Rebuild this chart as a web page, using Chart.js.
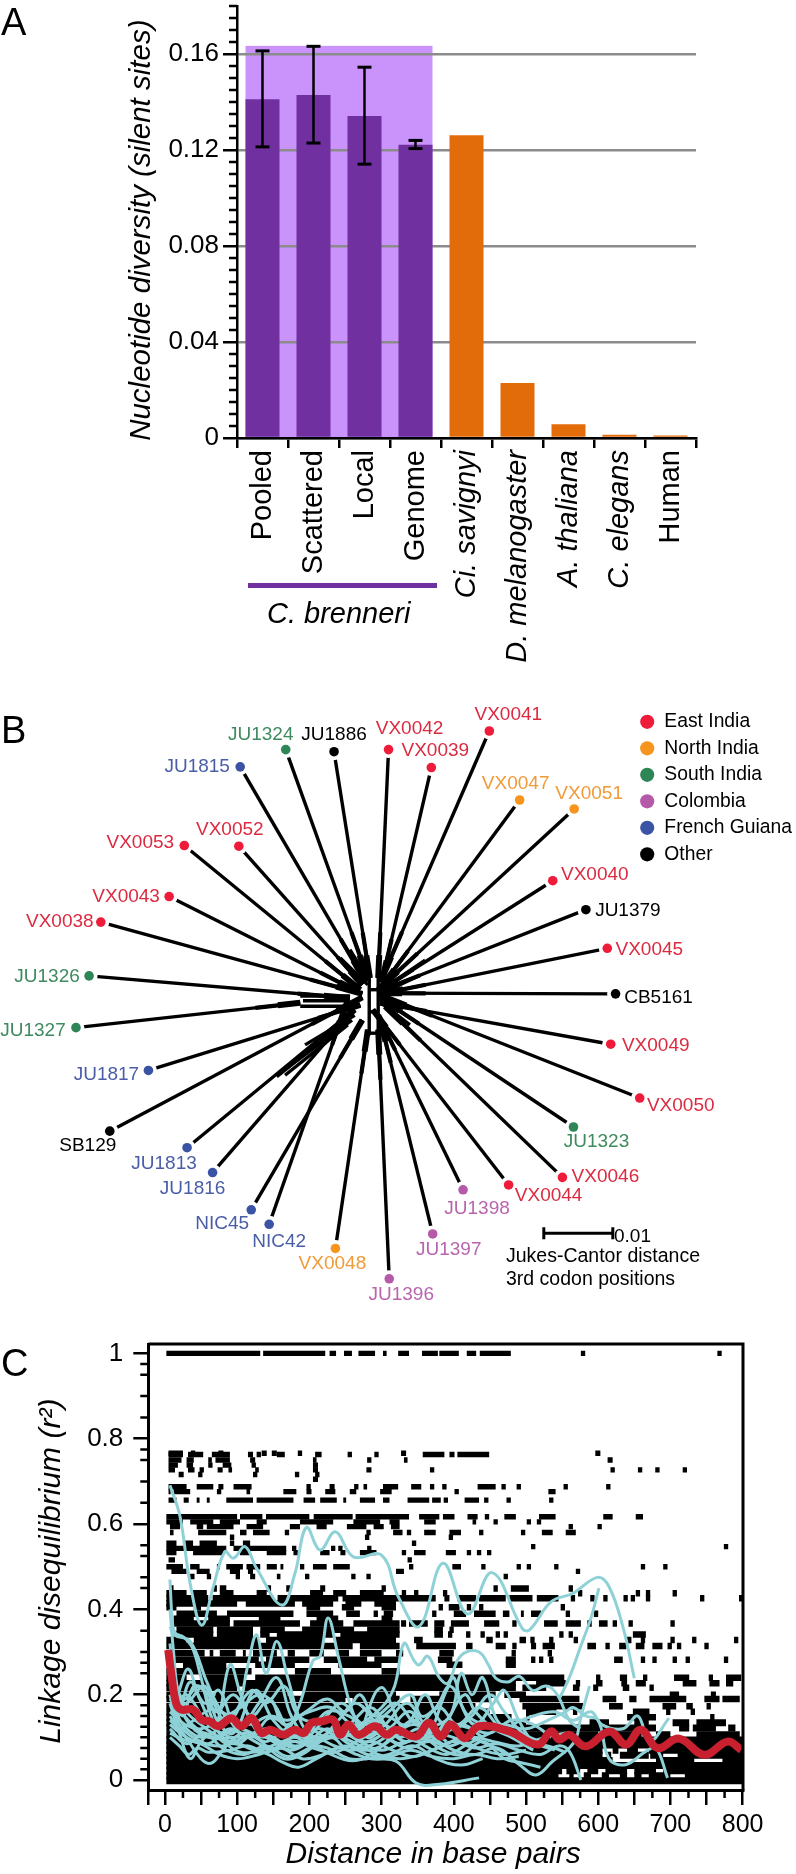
<!DOCTYPE html>
<html>
<head>
<meta charset="utf-8">
<script src="https://cdn.jsdelivr.net/npm/chart.js@4"></script>
<style>
body { margin: 0; background: #fff; font-family: "Liberation Sans", Arial, sans-serif; }
#page { position: relative; width: 796px; height: 1874px; overflow: hidden; }
canvas { position: absolute; left: 0; }
.note { position: absolute; white-space: nowrap; color: #000; line-height: 1; }
.letter { font-size: 38px; left: 1px; }
</style>
</head>
<body>
<div id="page">
  <canvas id="diversity" width="796" height="680" style="top:0"></canvas>
  <canvas id="tree" width="796" height="650" style="top:680px"></canvas>
  <canvas id="ld" width="796" height="544" style="top:1330px"></canvas>
  <div class="note letter" style="top:3px">A</div>
  <div class="note letter" style="top:711px">B</div>
  <div class="note letter" style="top:1344px">C</div>
  <div style="position:absolute;left:248px;top:583px;width:189px;height:5px;background:#7030a0"></div>
  <div class="note" style="left:267px;top:599px;font-size:29px;font-style:italic">C. brenneri</div>
  <div class="note" style="left:614px;top:1226px;font-size:19px">0.01</div>
  <div class="note" style="left:506px;top:1246px;font-size:19.5px">Jukes-Cantor distance</div>
  <div class="note" style="left:506px;top:1269px;font-size:19.5px">3rd codon positions</div>
</div>
<script>
// Panel A
const species = ['Pooled', 'Scattered', 'Local', 'Genome', 'Ci. savignyi', 'D. melanogaster', 'A. thaliana', 'C. elegans', 'Human'];
const italicSpecies = ['Ci. savignyi', 'D. melanogaster', 'A. thaliana', 'C. elegans'];
const diversity = [0.1411, 0.1429, 0.1342, 0.1222, 0.1261, 0.0229, 0.0057, 0.0014, 0.001];
const errLow = [0.1213, 0.1229, 0.1141, 0.1206];
const errHigh = [0.1613, 0.1632, 0.1545, 0.124];
const brenneriBand = 0.1634;
const divMajorTicks = [0, 0.04, 0.08, 0.12, 0.16];
const divMinorTicks = [0.005, 0.01, 0.015, 0.02, 0.025, 0.03, 0.035, 0.045, 0.05, 0.055, 0.06, 0.065, 0.07, 0.075, 0.085, 0.09, 0.095, 0.1, 0.105, 0.11, 0.115, 0.125, 0.13, 0.135, 0.14, 0.145, 0.15, 0.155, 0.165, 0.17, 0.175, 0.18];

// Panel B, distances from the centre of the tree
const leafNames = ['JU1324', 'JU1886', 'VX0042', 'JU1815', 'VX0052', 'VX0053', 'VX0043', 'VX0038', 'JU1326', 'JU1327', 'JU1817', 'SB129', 'JU1813', 'JU1816', 'NIC45', 'NIC42', 'VX0048', 'JU1396', 'VX0041', 'VX0039', 'VX0047', 'VX0051', 'VX0040', 'JU1379', 'VX0045', 'CB5161', 'VX0049', 'VX0050', 'JU1323', 'VX0046', 'VX0044', 'JU1398', 'JU1397'];
const leafRegion = [2, 5, 0, 4, 0, 0, 0, 0, 2, 2, 4, 5, 4, 4, 4, 4, 1, 3, 0, 0, 1, 1, 0, 5, 0, 5, 0, 0, 2, 0, 0, 3, 3];
const leafX = [-0.0125, -0.0055, 0.0024, -0.0191, -0.0193, -0.0272, -0.0294, -0.0393, -0.041, -0.0429, -0.0324, -0.038, -0.0268, -0.0231, -0.0175, -0.0149, -0.0053, 0.0025, 0.017, 0.0086, 0.0214, 0.0293, 0.0262, 0.031, 0.0341, 0.0353, 0.0346, 0.0388, 0.0292, 0.0276, 0.0198, 0.0132, 0.0088];
const leafY = [0.036, 0.0357, 0.036, 0.0335, 0.022, 0.0221, 0.0147, 0.011, 0.0032, -0.0043, -0.0105, -0.0193, -0.0217, -0.0253, -0.0307, -0.0328, -0.0363, -0.0407, 0.0387, 0.0334, 0.0287, 0.0274, 0.017, 0.0128, 0.0072, 0.0006, -0.0067, -0.0145, -0.0187, -0.026, -0.0271, -0.0278, -0.0342];
const nodeX = [-0.0006, -0.0003, 0.0009, -0.0009, -0.0014, -0.0017, -0.002, -0.0014, -0.0032, -0.0104, -0.0017, -0.0014, -0.0025, -0.0029, -0.0014, -0.0035, -0.0006, 0.0009, 0.0012, 0.0014, 0.0012, 0.0009, 0.0009, 0.0009, 0.0012, 0.0009, 0.0012, 0.0012, 0.0012, 0.0019, 0.0001, 0.0009, 0.0012];
const nodeY = [0.0029, 0.0029, 0.0029, 0.0023, 0.0019, 0.0012, 0.0009, 0.0006, 0, -0.0007, -0.001, 0.0001, -0.0017, -0.002, -0.0032, -0.0003, -0.0046, -0.0046, 0.0023, 0.0023, 0.0014, 0.0012, 0.0009, 0.0009, 0.0006, 0.0007, -0.0007, 0.0004, 0, -0.0012, -0.0017, -0.0025, -0.0032];
const innerEdges = [
  [-0.0004, 0.0033, -0.0004, -0.0054], [0.0009, 0.0033, 0.0009, -0.0054],
  [-0.0004, 0.0012, 0.0009, 0.0012], [-0.0004, -0.002, 0.0009, -0.002], [-0.0004, -0.0051, 0.0009, -0.0051],
  [-0.0104, 0.0003, -0.0032, 0.0003], [-0.01, -0.0004, -0.0032, -0.0004], [-0.0104, -0.0012, -0.0029, -0.0012],
  [-0.0138, -0.0114, -0.0039, -0.0035], [-0.0126, -0.0112, -0.0035, -0.0039], [-0.0112, -0.0093, -0.0029, -0.0032], [-0.0097, -0.0068, -0.0025, -0.0025],
  [-0.0046, 0.0058, -0.0006, 0.0019], [-0.0032, 0.007, -0.0003, 0.0023],
  [0.0077, 0.0055, 0.0014, 0.0012], [0.007, 0.0033, 0.0014, 0.0007], [0.0055, -0.0039, 0.0012, -0.0006]
];
const scaleBarX = [0.0249, 0.0349];
const scaleBarY = -0.0341;
const regions = ['East India', 'North India', 'South India', 'Colombia', 'French Guiana', 'Other'];

// Panel C, one row of runs [from, to, from, to, ...] per r2 level
const ldLevels = [1, 0.766, 0.763, 0.75, 0.738, 0.727, 0.716, 0.705, 0.6875, 0.676, 0.656, 0.617, 0.605, 0.594, 0.58, 0.569, 0.555, 0.547, 0.543, 0.533, 0.516, 0.5, 0.489, 0.477, 0.449, 0.4375, 0.426, 0.414, 0.405, 0.39, 0.378, 0.367, 0.352, 0.341, 0.328, 0.314, 0.297, 0.282, 0.27, 0.255, 0.24, 0.227, 0.216, 0.2, 0.19, 0.173, 0.16, 0.147, 0.134, 0.122, 0.106, 0.094, 0.082, 0.07, 0.058, 0.046, 0.034, 0.022, 0.01, -0.002];
const ldRuns = [
  [2, 132, 136, 222, 228, 237, 248, 259, 268, 291, 302, 307, 323, 338, 356, 378, 380, 407, 418, 431, 436, 479, 576, 582, 765, 771],
  [5, 25, 36, 42, 74, 81, 134, 141, 148, 155, 184, 190, 327, 334, 596, 603],
  [5, 25, 32, 53, 65, 90, 115, 122, 127, 133, 155, 166, 208, 217, 253, 259, 290, 296, 357, 387, 394, 401, 405, 449],
  [5, 23, 30, 40, 60, 65, 70, 90, 118, 125, 205, 210, 280, 286, 331, 336, 613, 620],
  [5, 18, 30, 39, 60, 66, 80, 92, 120, 126, 205, 212],
  [5, 14, 32, 41, 48, 54, 73, 80, 88, 93, 125, 130, 205, 212, 279, 286, 367, 373, 617, 623, 655, 661, 679, 685, 717, 723],
  [19, 26, 46, 52, 122, 128, 180, 186, 208, 214],
  [205, 212],
  [5, 30, 44, 67, 74, 81, 95, 120, 196, 202, 228, 235, 262, 268, 275, 280, 302, 323, 341, 355, 367, 373, 384, 390, 433, 458, 466, 472, 487, 493, 552, 558, 611, 617],
  [5, 8, 12, 35, 72, 78, 113, 118, 164, 182, 196, 203, 222, 236, 256, 265, 298, 314, 401, 407, 531, 541],
  [5, 16, 26, 33, 44, 48, 58, 62, 85, 122, 127, 178, 192, 208, 215, 238, 247, 251, 270, 291, 302, 311, 336, 366, 370, 382, 386, 392, 415, 435, 442, 448, 473, 479, 532, 538],
  [2, 100, 104, 135, 140, 200, 206, 260, 264, 338, 352, 380, 385, 401, 419, 433, 443, 449, 470, 486, 518, 541, 607, 620, 652, 662],
  [2, 25, 35, 67, 76, 104, 127, 141, 187, 233, 261, 298, 311, 325, 359, 375, 426, 431, 455, 461, 501, 507, 515, 521],
  [7, 21, 44, 53, 58, 95, 113, 136, 173, 187, 210, 224, 252, 279, 289, 303, 313, 325, 559, 565, 599, 605],
  [7, 12, 46, 85, 104, 113, 122, 145, 166, 172, 279, 285, 316, 329, 335, 341, 359, 375, 394, 410, 435, 441, 493, 499, 522, 537, 555, 569],
  [90, 96, 277, 283, 393, 399],
  [2, 16, 25, 39, 48, 72, 90, 96, 108, 118, 342, 348],
  [507, 513, 774, 780],
  [2, 85, 95, 168, 176, 182, 230, 236, 240, 246, 280, 286],
  [2, 16, 39, 81, 104, 118, 141, 168, 178, 184, 215, 228, 243, 250, 270, 293, 328, 334, 345, 361, 389, 403, 418, 424, 432, 438, 446, 452],
  [5, 14, 336, 342],
  [2, 25, 35, 48, 72, 76, 85, 108, 113, 132, 141, 155, 160, 164, 187, 193, 205, 224, 233, 256, 338, 344, 398, 410, 438, 444, 487, 493, 501, 507, 539, 545, 659, 665, 690, 696],
  [9, 30, 44, 62, 90, 104, 115, 122, 320, 331, 569, 575],
  [35, 41, 58, 64, 98, 104, 118, 125, 155, 160, 194, 200, 258, 264, 279, 285, 469, 475],
  [7, 12, 67, 72, 76, 85, 141, 147, 168, 174, 215, 222, 300, 306, 455, 461, 479, 504, 559, 565],
  [2, 30, 39, 58, 76, 95, 127, 141, 201, 219, 233, 251, 270, 303, 328, 334, 345, 351, 385, 391, 572, 578, 652, 658, 666, 672, 703, 709],
  [2, 60, 66, 150, 156, 240, 246, 375, 387, 394, 405, 431, 435, 472, 477, 509, 515, 545, 562, 568, 589, 595, 607, 613, 635, 641, 645, 651, 666, 672, 741, 747, 795, 800],
  [2, 100, 112, 180, 190, 233, 250, 272, 290, 320],
  [2, 16, 40, 50, 196, 215, 245, 262, 300, 320, 379, 385, 393, 408, 418, 424, 435, 441, 548, 554],
  [16, 72, 86, 178, 196, 233, 251, 270, 289, 295, 303, 316, 370, 376, 400, 417, 428, 458, 468, 477, 493, 497, 507, 521, 555, 561, 594, 600],
  [12, 40, 60, 90, 130, 160, 210, 240, 300, 315],
  [12, 90, 95, 187, 201, 247, 261, 325, 327, 334, 338, 364, 373, 387, 396, 421, 442, 463, 481, 487, 525, 544, 555, 576, 585, 591, 601, 613, 620, 626, 642, 648, 700, 706],
  [16, 67, 72, 122, 132, 166, 190, 262, 280, 325, 373, 385, 394, 400],
  [12, 67, 72, 122, 132, 145, 155, 233, 243, 325, 373, 385, 392, 398, 417, 423, 437, 443, 458, 464, 469, 475, 546, 552, 559, 565, 648, 666],
  [2, 30, 40, 130, 140, 220, 235, 320, 345, 357, 445, 454, 491, 500, 506, 512, 532, 538, 566, 572, 640, 646, 659, 665, 700, 706, 730, 736, 788, 794],
  [2, 260, 270, 325, 348, 403, 417, 426, 458, 472, 481, 487, 507, 514, 523, 540, 585, 597, 610, 616, 629, 639, 652, 664, 675, 689, 696, 702, 709, 715, 747, 753],
  [2, 55, 62, 67, 76, 98, 108, 112, 122, 155, 170, 180, 200, 220, 240, 255, 270, 300, 320, 330, 380, 400, 480, 486, 530, 536],
  [2, 130, 140, 200, 220, 280, 290, 325, 378, 398, 472, 486, 507, 513, 518, 524, 532, 538, 622, 634, 659, 665, 675, 681, 703, 709, 721, 727, 774, 780],
  [25, 85, 125, 180, 240, 300, 390, 412, 472, 486],
  [2, 120, 180, 230, 300, 325],
  [2, 30, 50, 110, 125, 553, 597, 603, 630, 640, 662, 668, 705, 726, 753, 759, 777, 798],
  [2, 486, 514, 555, 569, 575, 597, 606, 632, 640, 652, 666, 717, 736, 754, 768, 777, 787],
  [2, 100, 110, 486, 495, 528, 565, 574, 593, 600, 634, 643, 671, 677],
  [2, 60, 70, 170, 190, 320, 380, 458, 470, 500, 699, 712, 756, 763],
  [2, 250, 260, 325, 340, 450, 491, 574, 606, 625, 643, 653, 671, 722, 747, 768, 772, 796],
  [2, 430, 495, 579, 615, 634, 689, 708, 722, 731, 750, 756],
  [2, 450, 500, 542, 565, 571, 648, 671, 694, 700, 728, 734],
  [2, 480, 500, 505, 640, 680, 755, 761],
  [2, 500, 588, 615, 650, 670, 703, 726, 736, 777],
  [2, 680, 712, 726, 731, 763, 780, 790],
  [2, 600, 605, 660, 680, 700, 736, 796],
  [2, 800],
  [2, 800],
  [2, 606, 620, 628, 640, 655, 670, 800],
  [2, 606, 612, 618, 630, 670, 672, 690, 710, 800],
  [2, 620, 680, 733, 772, 800],
  [2, 800],
  [2, 550, 556, 575, 585, 600, 610, 640, 650, 680, 690, 800],
  [2, 545, 560, 566, 580, 590, 605, 615, 630, 640, 650, 660, 670, 700, 720, 800],
  [2, 800]
];
// single-locus curves as x, r2, x, r2, ...
const ldCurves = [
  [7, 0.691, 21, 0.617, 35, 0.46, 51, 0.363, 67, 0.453, 83, 0.535, 95, 0.52, 111, 0.547, 127, 0.496, 162, 0.41, 180, 0.484, 196, 0.592, 215, 0.539, 236, 0.582, 261, 0.523, 300, 0.527, 323, 0.43, 352, 0.36, 385, 0.508, 419, 0.389, 453, 0.486, 495, 0.355, 505, 0.352, 535, 0.418, 565, 0.4375, 599, 0.475, 615, 0.453, 634, 0.36, 650, 0.239],
  [546, 0.19, 560, 0.24, 575, 0.31, 590, 0.38, 601, 0.45],
  [7, 0.47, 10, 0.38, 14, 0.345, 26, 0.335, 38, 0.31, 50, 0.24, 62, 0.16, 75, 0.11, 90, 0.09, 110, 0.08],
  [7, 0.4, 12, 0.3, 18, 0.21, 30, 0.16, 50, 0.13, 75, 0.1, 100, 0.085, 125, 0.11, 150, 0.09, 175, 0.07, 200, 0.09, 225, 0.12, 250, 0.09, 275, 0.07, 300, 0.08, 330, 0.11, 360, 0.08, 390, 0.06, 420, 0.085, 450, 0.11],
  [7, 0.27, 14, 0.17, 30, 0.12, 55, 0.1, 80, 0.13, 100, 0.16, 115, 0.27, 127, 0.34, 140, 0.25, 155, 0.325, 170, 0.24, 190, 0.13, 210, 0.1, 240, 0.12, 270, 0.09, 300, 0.07, 330, 0.09],
  [7, 0.2, 20, 0.13, 50, 0.09, 80, 0.08, 110, 0.1, 140, 0.12, 165, 0.11, 185, 0.17, 205, 0.28, 215, 0.29, 226, 0.38, 240, 0.29, 258, 0.17, 280, 0.1, 305, 0.13, 335, 0.18, 360, 0.13, 390, 0.09],
  [7, 0.3, 16, 0.2, 32, 0.26, 48, 0.19, 70, 0.13, 90, 0.27, 105, 0.2, 125, 0.12, 150, 0.1, 180, 0.075, 205, 0.1, 235, 0.08, 260, 0.07, 290, 0.085, 320, 0.11, 350, 0.09, 380, 0.1, 410, 0.13, 440, 0.1],
  [7, 0.36, 13, 0.34, 35, 0.325, 58, 0.23, 75, 0.17, 95, 0.13, 120, 0.11, 140, 0.08, 165, 0.05, 190, 0.06, 215, 0.09, 240, 0.1, 265, 0.085, 295, 0.06, 325, 0.05, 355, 0.06, 385, 0.08, 415, 0.1, 445, 0.085, 475, 0.06],
  [7, 0.18, 20, 0.11, 35, 0.05, 50, 0.09, 65, 0.11, 80, 0.09, 105, 0.065, 135, 0.065, 165, 0.04, 185, 0.03, 210, 0.05, 240, 0.075, 265, 0.06, 285, 0.05, 320, 0.044, 348, -0.007, 380, -0.01, 435, 0.005],
  [7, 0.14, 25, 0.11, 50, 0.05, 65, 0.04, 85, 0.08, 110, 0.11, 140, 0.09, 170, 0.12, 195, 0.1, 225, 0.14, 250, 0.11, 280, 0.09, 310, 0.12, 340, 0.16, 365, 0.1, 390, 0.14, 415, 0.2, 430, 0.16, 455, 0.12, 480, 0.1, 510, 0.07],
  [7, 0.22, 25, 0.15, 40, 0.22, 60, 0.2, 85, 0.14, 120, 0.21, 140, 0.18, 165, 0.22, 185, 0.15, 215, 0.14, 245, 0.18, 275, 0.13, 305, 0.15, 335, 0.13, 360, 0.2, 380, 0.14, 400, 0.12, 425, 0.15, 450, 0.2, 470, 0.16, 495, 0.11, 520, 0.09],
  [7, 0.17, 30, 0.18, 55, 0.22, 72, 0.14, 95, 0.11, 125, 0.21, 150, 0.14, 180, 0.1, 200, 0.12, 225, 0.1, 255, 0.13, 285, 0.17, 310, 0.12, 335, 0.09, 365, 0.12, 395, 0.15, 410, 0.25, 425, 0.2, 440, 0.24, 460, 0.14, 490, 0.1],
  [7, 0.25, 30, 0.14, 60, 0.1, 100, 0.1, 140, 0.1, 180, 0.08, 220, 0.1, 260, 0.12, 300, 0.17, 318, 0.22, 331, 0.32, 345, 0.28, 352, 0.27, 364, 0.29, 380, 0.24, 392, 0.227, 405, 0.28, 417, 0.3, 435, 0.3, 448, 0.27, 458, 0.239, 475, 0.23, 491, 0.243, 509, 0.21, 525, 0.22, 535, 0.216, 546, 0.192, 560, 0.14, 575, 0.12],
  [270, 0.1, 290, 0.2, 302, 0.216, 315, 0.17, 330, 0.12, 360, 0.1, 390, 0.21, 400, 0.24, 412, 0.17, 430, 0.13, 455, 0.18, 470, 0.21, 490, 0.14, 510, 0.09, 540, 0.07],
  [7, 0.13, 30, 0.1, 60, 0.085, 90, 0.12, 120, 0.1, 145, 0.145, 175, 0.12, 200, 0.09, 230, 0.06, 260, 0.045, 285, 0.06, 315, 0.1, 345, 0.13, 375, 0.095, 400, 0.07, 430, 0.06, 460, 0.075, 491, 0.036, 514, 0.012, 537, 0.044, 560, 0.075, 570, 0.1, 575, 0.14, 588, 0.22],
  [7, 0.12, 30, 0.085, 55, 0.11, 80, 0.075, 110, 0.06, 140, 0.08, 170, 0.055, 200, 0.075, 230, 0.1, 255, 0.07, 285, 0.09, 315, 0.07, 345, 0.055, 370, 0.07, 400, 0.09, 430, 0.075, 460, 0.085, 490, 0.07, 520, 0.06, 545, 0.08, 560, 0.067, 576, 0],
  [7, 0.11, 25, 0.095, 50, 0.085, 75, 0.06, 100, 0.05, 130, 0.06, 160, 0.075, 190, 0.05, 220, 0.06, 250, 0.08, 280, 0.06, 310, 0.055, 340, 0.07, 370, 0.055, 400, 0.05, 430, 0.06, 460, 0.05, 490, 0.055],
  [7, 0.15, 20, 0.12, 40, 0.14, 65, 0.165, 90, 0.15, 115, 0.13, 145, 0.15, 170, 0.14, 200, 0.16, 230, 0.17, 260, 0.13, 290, 0.14, 320, 0.12, 345, 0.14, 370, 0.11, 395, 0.13, 425, 0.12, 450, 0.11, 480, 0.14, 510, 0.13, 535, 0.1],
  [7, 0.2, 18, 0.15, 35, 0.23, 55, 0.18, 75, 0.21, 100, 0.12, 130, 0.18, 155, 0.24, 175, 0.15, 195, 0.11, 225, 0.16, 255, 0.15, 280, 0.12, 310, 0.16, 340, 0.2, 355, 0.15, 375, 0.17, 395, 0.22, 420, 0.15, 445, 0.13, 470, 0.13, 500, 0.12, 530, 0.14, 555, 0.16, 565, 0.17, 583, 0.15, 600, 0.14, 615, 0.05, 638, 0.036, 666, 0.067, 680, 0.075, 696, 0.005],
  [480, 0.13, 510, 0.15, 540, 0.16, 565, 0.14, 590, 0.16, 605, 0.13, 634, 0.12, 655, 0.15, 671, 0.09, 698, 0.145],
  [7, 0.16, 28, 0.13, 50, 0.12, 75, 0.14, 105, 0.17, 130, 0.2, 150, 0.18, 175, 0.11, 210, 0.09, 240, 0.14, 265, 0.18, 295, 0.13, 325, 0.1, 350, 0.12, 380, 0.11, 415, 0.09, 440, 0.07, 470, 0.06, 500, 0.07],
  [7, 0.24, 15, 0.18, 30, 0.2, 60, 0.13, 90, 0.1, 125, 0.07, 155, 0.085, 185, 0.105, 215, 0.12, 245, 0.1, 275, 0.12, 305, 0.1, 335, 0.075, 365, 0.09, 395, 0.08, 425, 0.1, 455, 0.09, 490, 0.08, 525, 0.1, 555, 0.11],
  [7, 0.32, 12, 0.25, 26, 0.19, 48, 0.22, 70, 0.16, 95, 0.2, 120, 0.15, 145, 0.19, 165, 0.13, 195, 0.16, 225, 0.19, 250, 0.16, 270, 0.2, 290, 0.15, 320, 0.18, 350, 0.13, 380, 0.17, 405, 0.13, 435, 0.17, 465, 0.12, 495, 0.09, 530, 0.08, 555, 0.065],
  [7, 0.19, 22, 0.16, 45, 0.12, 70, 0.1, 95, 0.115, 125, 0.09, 150, 0.07, 180, 0.09, 205, 0.075, 235, 0.065, 265, 0.09, 295, 0.11, 325, 0.085, 355, 0.1, 385, 0.07, 410, 0.06, 440, 0.09, 470, 0.05, 495, 0.04, 520, 0.03],
  [7, 0.1, 20, 0.08, 33, 0.06, 45, 0.075, 60, 0.065, 90, 0.07, 115, 0.08, 140, 0.065, 170, 0.09, 195, 0.085, 225, 0.075, 255, 0.05, 280, 0.05, 310, 0.06, 345, 0.08, 375, 0.05, 410, 0.035, 440, 0.05]
];
const ldMeanX = [4.6, 9, 16, 23, 39, 51, 62, 74, 92, 106, 120, 134, 145.5, 164, 180, 192, 203, 217, 233, 242.5, 254, 268, 291, 307, 320, 348, 366, 382, 396, 415, 435, 477, 516, 535, 546, 560, 583, 615.5, 638.6, 659, 682, 712, 747, 779, 798];
const ldMeanY = [0.305, 0.247, 0.177, 0.165, 0.165, 0.141, 0.1375, 0.126, 0.145, 0.126, 0.145, 0.11, 0.118, 0.106, 0.118, 0.11, 0.134, 0.1375, 0.141, 0.106, 0.13, 0.106, 0.126, 0.106, 0.118, 0.102, 0.134, 0.102, 0.13, 0.098, 0.126, 0.114, 0.083, 0.114, 0.095, 0.106, 0.079, 0.114, 0.083, 0.118, 0.075, 0.097, 0.059, 0.09, 0.071];
const ldMajorY = [0, 0.2, 0.4, 0.6, 0.8, 1];
const ldMinorY = [0.025, 0.05, 0.075, 0.1, 0.125, 0.15, 0.175, 0.25, 0.275, 0.3, 0.35, 0.45, 0.475, 0.525, 0.55, 0.65, 0.7, 0.75, 0.775, 0.85, 0.9, 0.95, 0.975];
const ldLongX = [-23, 0, 50, 100, 150, 200, 250, 300, 350, 400, 450, 500, 550, 600, 650, 700, 750, 800];
const ldShortX = [25, 75, 125, 175, 225, 275, 325, 375, 425, 475, 525, 575, 625, 675, 725, 775];

const SANS = '"Liberation Sans", Arial, sans-serif';
Chart.defaults.font.family = SANS;
Chart.defaults.color = '#000';
Chart.defaults.animation = false;
Chart.defaults.responsive = false;
Chart.defaults.layout.autoPadding = false;
Chart.defaults.plugins.tooltip.enabled = false;

// keeps an axis from pushing the plot area in for its end labels
function noEndPadding(scale) {
  scale.paddingTop = 0;
  scale.paddingBottom = 0;
  scale.paddingLeft = 0;
  scale.paddingRight = 0;
}

// short tick marks that a single tickLength can't give
function shortTicks(id, xValues, yValues, length, width) {
  return {
    id: id,
    afterDraw(chart) {
      const c = chart.ctx;
      const area = chart.chartArea;
      c.save();
      c.strokeStyle = '#000';
      c.lineWidth = width;
      c.beginPath();
      xValues.forEach(v => {
        const px = chart.scales.x.getPixelForValue(v);
        c.moveTo(px, area.bottom);
        c.lineTo(px, area.bottom + length);
      });
      yValues.forEach(v => {
        const py = chart.scales.y.getPixelForValue(v);
        c.moveTo(area.left, py);
        c.lineTo(area.left - length, py);
      });
      c.stroke();
      c.restore();
    }
  };
}

// Panel A
const whiskers = errLow.map((low, i) => ({
  type: 'line',
  order: 0,
  data: [{ x: species[i], y: low }, { x: species[i], y: errHigh[i] }],
  borderColor: '#000',
  borderWidth: 2.5,
  pointStyle: 'line',
  pointRadius: 7,
  pointBorderColor: '#000',
  pointBorderWidth: 3
}));

new Chart(document.getElementById('diversity'), {
  type: 'bar',
  data: {
    labels: species,
    datasets: [...whiskers, {
      order: 1,
      data: diversity,
      backgroundColor: species.map((s, i) => i < 4 ? '#7030a0' : '#e36c0a'),
      barPercentage: 0.667,
      categoryPercentage: 1
    }]
  },
  options: {
    layout: { padding: { left: 116, right: 100, top: 6 } },
    plugins: { legend: { display: false } },
    scales: {
      x: {
        grid: { drawOnChartArea: false, offset: true, color: '#000', lineWidth: 2.5, tickLength: 10 },
        border: { color: '#000', width: 2.5 },
        ticks: {
          autoSkip: false,
          minRotation: 90,
          maxRotation: 90,
          padding: 2,
          font: ctx => ({ size: 29, style: italicSpecies.includes(species[ctx.index]) ? 'italic' : 'normal' })
        },
        afterFit(scale) { noEndPadding(scale); scale.height = 242; }
      },
      y: {
        min: 0,
        max: 0.18,
        afterBuildTicks(scale) { scale.ticks = divMajorTicks.map(value => ({ value })); },
        afterFit(scale) { noEndPadding(scale); scale.width = 121; },
        grid: { color: '#8c8c8c', lineWidth: 2.5, tickColor: '#000', tickLength: 14, tickWidth: 2.5 },
        border: { color: '#000', width: 2.5 },
        ticks: { font: { size: 26 }, padding: 4, callback: v => String(v) },
        title: {
          display: true,
          text: 'Nucleotide diversity (silent sites)\u00a0\u00a0',
          font: { size: 29.5, style: 'italic' },
          padding: { top: 8, bottom: 0 }
        }
      }
    }
  },
  plugins: [
    {
      id: 'brenneriBand',
      beforeDraw(chart) {
        const bars = chart.getDatasetMeta(whiskers.length).data;
        const left = bars[0].x - bars[0].width / 2;
        const right = bars[3].x + bars[3].width / 2;
        const top = chart.scales.y.getPixelForValue(brenneriBand);
        chart.ctx.fillStyle = '#c993fb';
        chart.ctx.fillRect(left, top, right - left, chart.chartArea.bottom - top);
      }
    },
    shortTicks('divTicks', [], divMinorTicks, 8, 2.5)
  ]
});

// Panel B
const regionColors = ['#ee1c3a', '#f7941e', '#2e8555', '#b55aa8', '#3a53a4', '#000000'];
const regionTextColors = ['#dc2a40', '#f09a38', '#3f8a5e', '#b865ae', '#4a5ea8', '#000000'];
const labelOffsets = [[-25, -15], [0, -17], [21, -21], [-43, 0], [-9, -16], [-44, -3], [-43, 0], [-41, 0], [-42, 1], [-43, 3], [-42, 4], [-22, 15], [-23, 16], [-20, 16], [-29, 14], [10, 17], [-3, 15], [12, 16], [19, -16], [4, -17], [-4, -16], [15, -15], [42, -6], [42, 1], [42, 1], [43, 4], [45, 2], [41, 8], [23, 15], [43, -1], [40, 11], [14, 19], [16, 16]];

const branch = (x0, y0, x1, y1, width) => ({
  order: 2,
  showLine: true,
  data: [{ x: x0, y: y0 }, { x: x1, y: y1 }],
  borderColor: '#000',
  borderWidth: width,
  pointRadius: 0
});

const leafDots = regions.map((name, r) => ({
  label: name,
  order: 0,
  data: leafNames.map((n, i) => ({ x: leafX[i], y: leafY[i], r: leafRegion[i] })).filter(p => p.r === r),
  pointRadius: 4.8,
  pointBackgroundColor: regionColors[r],
  pointBorderWidth: 0,
  pointHitRadius: 0
}));

// white ring under each dot so the branch stops short of it
const leafHalos = {
  order: 1,
  data: leafNames.map((n, i) => ({ x: leafX[i], y: leafY[i] })),
  pointRadius: 8.5,
  pointBackgroundColor: '#fff',
  pointBorderWidth: 0
};

const scaleBar = {
  order: 2,
  showLine: true,
  data: scaleBarX.map(x => ({ x, y: scaleBarY })),
  borderColor: '#000',
  borderWidth: 3,
  pointStyle: 'line',
  rotation: 90,
  pointRadius: 6,
  pointBorderColor: '#000',
  pointBorderWidth: 3
};

// branches get heavier where they bunch up at the hub, in two steps
const hubSegments = (share, width) => leafNames.map((n, i) => branch(
  nodeX[i], nodeY[i],
  nodeX[i] + (leafX[i] - nodeX[i]) * share, nodeY[i] + (leafY[i] - nodeY[i]) * share,
  width
));

new Chart(document.getElementById('tree'), {
  type: 'scatter',
  data: {
    datasets: [
      ...leafDots,
      leafHalos,
      scaleBar,
      ...leafNames.map((n, i) => branch(nodeX[i], nodeY[i], leafX[i], leafY[i], 3.4)),
      ...hubSegments(0.2, 4.2),
      ...hubSegments(0.1, 6),
      ...innerEdges.map(e => branch(e[0], e[1], e[2], e[3], 3.4))
    ]
  },
  options: {
    layout: { padding: 0 },
    scales: {
      x: { display: false, min: -0.05391, max: 0.06145 },
      y: { display: false, min: -0.04812, max: 0.04609 }
    },
    plugins: {
      legend: {
        position: 'chartArea',
        align: 'start',
        labels: {
          font: { size: 19.3 },
          color: '#000',
          usePointStyle: true,
          boxWidth: 15,
          boxHeight: 10,
          padding: 7.2,
          generateLabels: () => regions.map((name, r) => ({
            text: name,
            fillStyle: regionColors[r],
            strokeStyle: regionColors[r],
            lineWidth: 0,
            pointStyle: 'circle',
            datasetIndex: r
          }))
        }
      }
    }
  },
  plugins: [
    {
      id: 'placeLegend',
      afterLayout(chart) {
        const box = chart.legend;
        box.left = 632.5;
        box.right = 796;
        box.top = 25;
        box.bottom = 400;
      }
    },
    {
      id: 'leafLabels',
      afterDatasetsDraw(chart) {
        const c = chart.ctx;
        c.save();
        c.font = '19px ' + SANS;
        c.textAlign = 'center';
        c.textBaseline = 'middle';
        leafNames.forEach((name, i) => {
          c.fillStyle = regionTextColors[leafRegion[i]];
          c.fillText(name,
            chart.scales.x.getPixelForValue(leafX[i]) + labelOffsets[i][0],
            chart.scales.y.getPixelForValue(leafY[i]) + labelOffsets[i][1]);
        });
        c.restore();
      }
    }
  ]
});

// Panel C
const toPairs = flat => {
  const pts = [];
  for (let i = 0; i < flat.length; i += 2) pts.push({ x: flat[i], y: flat[i + 1] });
  return pts;
};

// dense rows overlap a little so the bands close up
const rowWidth = level => level < 0.14 ? 7 : level < 0.45 ? 6.5 : 5.4;

const ldRowSets = ldLevels.map((level, r) => {
  const pts = [];
  for (let i = 0; i < ldRuns[r].length; i += 2) {
    pts.push({ x: ldRuns[r][i], y: level }, { x: ldRuns[r][i + 1], y: level }, { x: null, y: null });
  }
  return { order: 2, showLine: true, data: pts, borderColor: '#000', borderWidth: rowWidth(level), pointRadius: 0, borderCapStyle: 'butt' };
});

const ldCurveSets = ldCurves.map(flat => ({
  order: 1,
  showLine: true,
  data: toPairs(flat),
  borderColor: '#8ed2d8',
  borderWidth: 3,
  tension: 0.4,
  pointRadius: 0
}));

new Chart(document.getElementById('ld'), {
  type: 'scatter',
  data: {
    datasets: [
      {
        order: 0,
        showLine: true,
        data: ldMeanX.map((x, i) => ({ x, y: ldMeanY[i] })),
        borderColor: '#c8202e',
        borderWidth: 8,
        tension: 0.4,
        pointRadius: 0
      },
      ...ldCurveSets,
      ...ldRowSets
    ]
  },
  options: {
    layout: { padding: { left: 30, right: 53, top: 14 } },
    plugins: { legend: { display: false } },
    scales: {
      x: {
        min: -23,
        max: 800.5,
        afterBuildTicks(scale) { scale.ticks = ldLongX.map(value => ({ value })); },
        afterFit(scale) { noEndPadding(scale); scale.height = 84; },
        grid: { drawOnChartArea: false, color: '#000', lineWidth: 2.5, tickLength: 15 },
        border: { color: '#000', width: 3 },
        ticks: {
          autoSkip: false,
          maxRotation: 0,
          padding: 5,
          font: { size: 25 },
          callback: v => (v >= 0 && v % 100 === 0) ? String(v) : ''
        },
        title: {
          display: true,
          text: 'Distance in base pairs\u00a0\u00a0\u00a0',
          font: { size: 30, style: 'italic' },
          padding: { top: 0, bottom: 1 }
        }
      },
      y: {
        min: -0.0234,
        max: 1.022,
        afterBuildTicks(scale) { scale.ticks = ldMajorY.map(value => ({ value })); },
        afterFit(scale) { noEndPadding(scale); scale.width = 118.3; },
        grid: { drawOnChartArea: false, color: '#000', lineWidth: 2.5, tickLength: 15 },
        border: { color: '#000', width: 3 },
        ticks: { font: { size: 26 }, padding: 10, callback: v => String(v) },
        title: {
          display: true,
          text: 'Linkage disequilibrium (r\u00b2)\u00a0',
          font: { size: 30, style: 'italic' },
          padding: { top: 4, bottom: 0 }
        }
      }
    }
  },
  plugins: [
    {
      id: 'frame',
      afterDatasetsDraw(chart) {
        const a = chart.chartArea;
        const c = chart.ctx;
        c.save();
        c.strokeStyle = '#000';
        c.lineWidth = 3;
        c.beginPath();
        c.moveTo(a.left, a.top);
        c.lineTo(a.right, a.top);
        c.lineTo(a.right, a.bottom);
        c.stroke();
        c.restore();
      }
    },
    shortTicks('ldTicks', ldShortX, ldMinorY, 8, 2.5)
  ]
});
</script>
</body>
</html>
